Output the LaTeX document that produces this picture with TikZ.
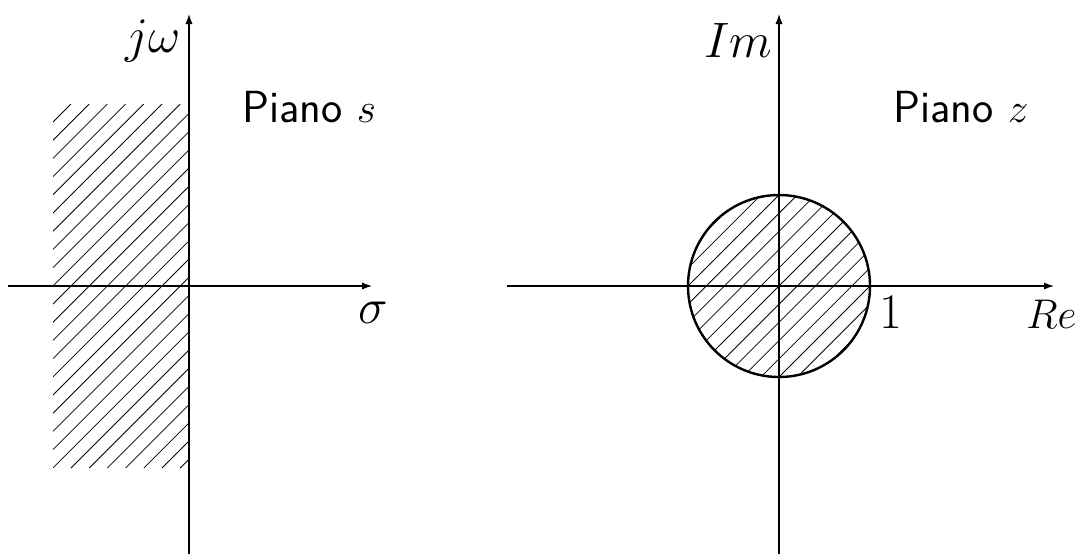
\documentclass[tikz,border=0pt]{standalone}
\usetikzlibrary{arrows.meta}
\begin{document}
\begin{tikzpicture}[x=0.5pt,y=-0.5pt,
  axis/.style={line width=0.6pt,-{Latex[length=5pt,width=3.6pt]}},
  hatchline/.style={line width=0.4pt},
  rim/.style={line width=1.2pt},
  lbl/.style={inner sep=0pt,anchor=base west,font=\fontsize{24}{28}\selectfont},
  plane/.style={lbl,font=\fontsize{22.5}{27}\selectfont\sffamily}]
\useasboundingbox (0,0) rectangle (1079,554);
% left plane
\coordinate (sb) at (189,554);
\coordinate (st) at (189,14);
\coordinate (sl) at (8,286);
\coordinate (sr) at (372,286);
\begin{scope}
  \clip (53,104) rectangle (189,468);
  \foreach \k in {0,...,27}{
    \pgfmathsetmacro{\c}{175+18.2*\k}
    \draw[hatchline] (\c-468,468) -- (\c-104,104);
  }
\end{scope}
\draw[axis] (sl) -- (sr);
\draw[axis] (sb) -- (st);
\node[lbl] (jw) at (125,52) {$j\omega$};
\node[plane] (ps) at (242,122) {Piano $s$};
\node[lbl] (sg) at (358,323) {$\sigma$};
% right plane
\coordinate (zb) at (779,554);
\coordinate (zt) at (779,14);
\coordinate (zl) at (507,286);
\coordinate (zr) at (1054,286);
\coordinate (zc) at (779,286);
\begin{scope}
  \clip (zc) circle[radius=91];
  \foreach \k in {-8,...,8}{
    \pgfmathsetmacro{\c}{1065+18.2*\k}
    \draw[hatchline] (\c-400,400) -- (\c-170,170);
  }
\end{scope}
\draw[rim] (zc) circle[radius=91];
\draw[axis] (zl) -- (zr);
\draw[axis] (zb) -- (zt);
\node[lbl] (im) at (704,57) {$Im$};
\node[plane] (pz) at (893,122) {Piano $z$};
\node[lbl] (one) at (879,328) {$1$};
\node[lbl,font=\fontsize{22}{26}\selectfont] (re) at (1026,328) {$Re$};
\end{tikzpicture}
\end{document}
